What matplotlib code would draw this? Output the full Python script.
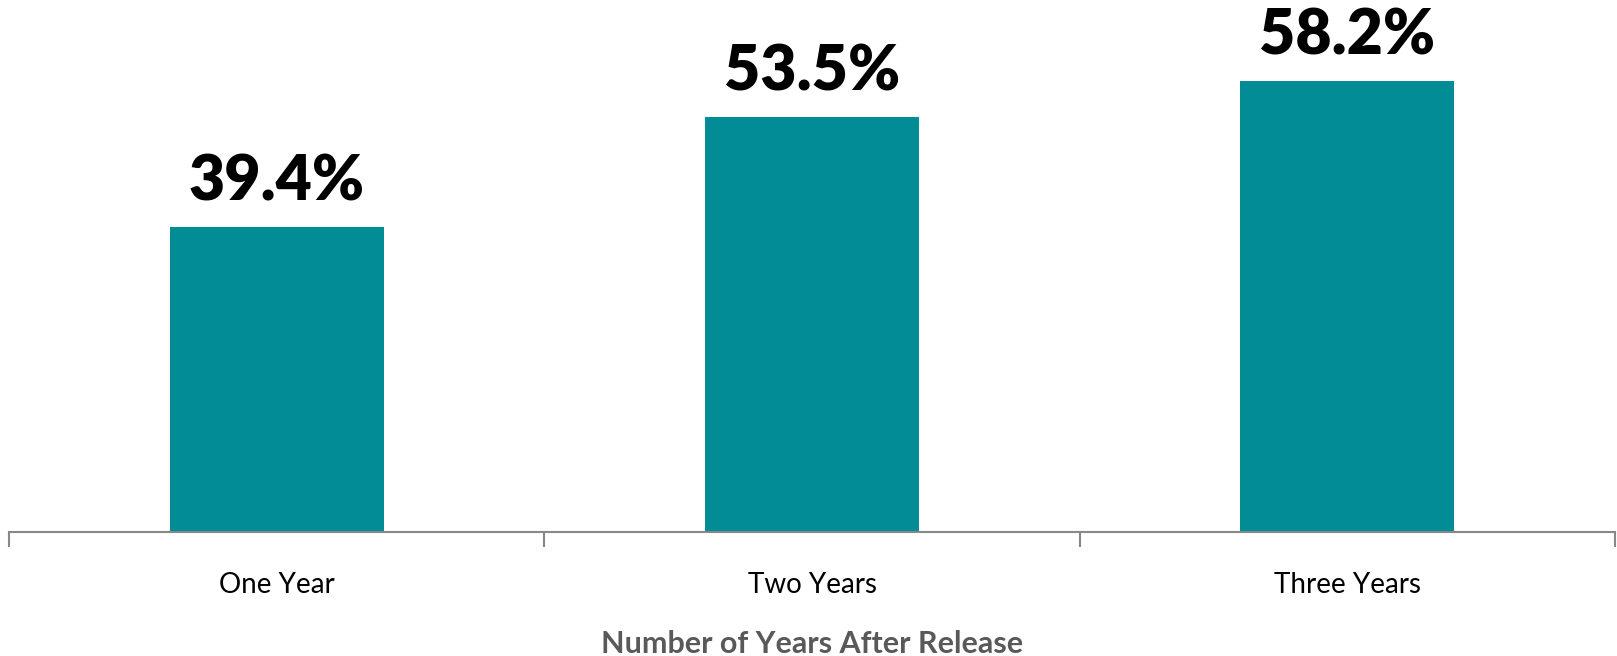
import matplotlib
matplotlib.use("Agg")
from matplotlib import pyplot as plt

categories = ["One Year", "Two Years", "Three Years"]
rates = [39.4, 53.5, 58.2]
labels = ["39.4%", "53.5%", "58.2%"]

plt.rcParams['font.family'] = ['Lato', 'DejaVu Sans']

fig = plt.figure(figsize=(16.17, 6.56), dpi=100)
ax = fig.add_axes([9 / 1617, 124 / 656, 1606 / 1617, 532 / 656])

x = list(range(len(categories)))
bars = ax.bar(x, rates, width=0.4, color="#028C95")

for b, lab in zip(bars, labels):
    ax.annotate(lab, (b.get_x() + b.get_width() / 2, b.get_height()),
                xytext=(0, 12), textcoords="offset points",
                ha="center", va="bottom", fontsize=45, fontweight="heavy")

ax.set_xlim(-0.5, 2.5)
ax.set_ylim(0, 68.65)

# category boundaries get the tick marks, centres get the labels
ax.set_xticks([-0.5, 0.5, 1.5, 2.5])
ax.set_xticklabels([])
ax.set_xticks(x, minor=True)
ax.set_xticklabels(categories, minor=True, fontsize=20)
ax.tick_params(axis="x", which="major", length=11, width=1.5, color="#888888")
ax.tick_params(axis="x", which="minor", length=0, pad=29)

ax.set_yticks([])
for side in ["top", "right", "left"]:
    ax.spines[side].set_visible(False)
ax.spines["bottom"].set_color("#888888")
ax.spines["bottom"].set_linewidth(1.5)

ax.set_xlabel("Number of Years After Release", fontsize=22, fontweight="bold",
              color="#595959", labelpad=23)

fig.savefig("out.png", dpi=100)
